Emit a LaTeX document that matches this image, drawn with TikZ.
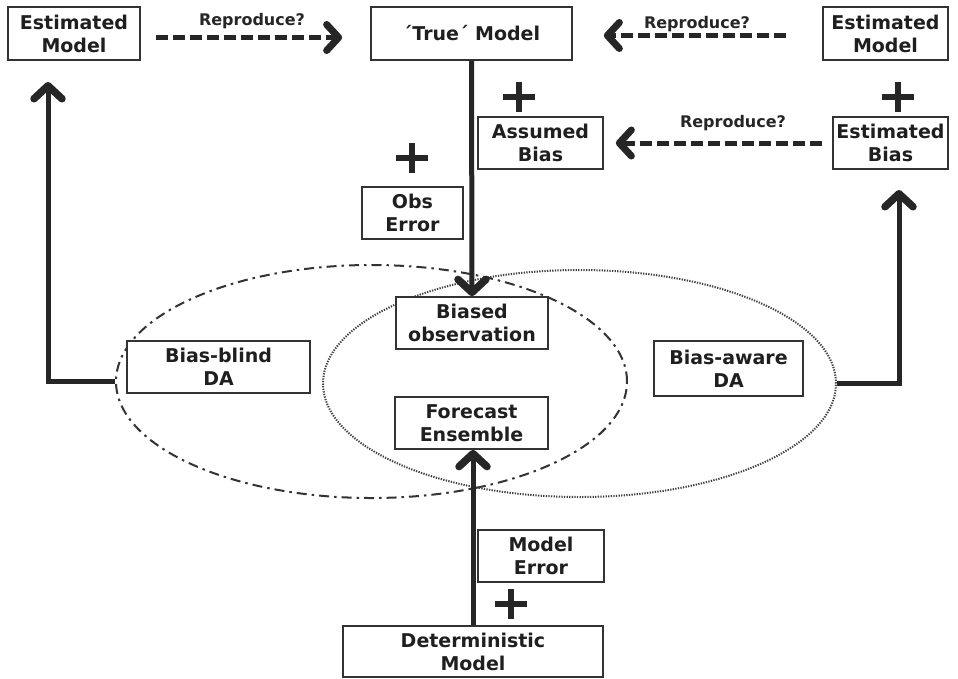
\documentclass[tikz,border=0pt]{standalone}
\usepackage{fontspec}
\setmainfont{DejaVu Sans}
\usetikzlibrary{arrows.meta,shapes.geometric}
\begin{document}
\begin{tikzpicture}[x=1pt,y=-1pt,
  box/.style={draw=black!80, line width=1.7pt, fill=white, inner sep=0pt, align=center,
    font=\bfseries\fontsize{19}{23}\selectfont, text=black!88},
  lbl/.style={font=\bfseries\fontsize{16}{19}\selectfont, text=black!85, inner sep=0pt},
  conn/.style={line width=5pt, draw=black!85,
    -{Straight Barb[length=13pt,width=28pt,line width=0pt 1.5,round]}},
  dasharrow/.style={line width=5pt, draw=black!85, dash pattern=on 12pt off 5pt,
    -{Straight Barb[length=12pt,width=26pt,line width=0pt 1.4,round]}},
  plussign/.pic={\draw[line width=5.5pt, draw=black!85] (-16,0) -- (16,0) (0,-15) -- (0,15);}
]
\useasboundingbox (0,0) rectangle (958,678);
\fill[white] (0,0) rectangle (958,678);

% ellipses
\node[ellipse, draw=black!80, line width=2pt, dash pattern=on 10pt off 5pt on 2.5pt off 5pt,
  minimum width=511pt, minimum height=233pt, inner sep=0pt] (ddell) at (371.5,381.5) {};
\node[ellipse, draw=black!75, line width=2pt, dash pattern=on 1.3pt off 1.3pt,
  minimum width=513pt, minimum height=227pt, inner sep=0pt] (dotell) at (579.5,383.5) {};

% boxes
\node[box, minimum width=132pt, minimum height=53pt] (em) at (74,33.5) {Estimated\\Model};
\node[box, minimum width=201pt, minimum height=53pt] (tm) at (471.5,33.5) {´True´ Model};
\node[box, minimum width=125pt, minimum height=53pt] (em2) at (885.5,33.5) {Estimated\\Model};
\node[box, minimum width=125pt, minimum height=52pt] (ab) at (540.5,143) {Assumed\\Bias};
\node[box, minimum width=115pt, minimum height=52pt] (eb) at (890.5,143) {Estimated\\Bias};
\node[box, minimum width=101pt, minimum height=52pt] (oe) at (412.5,213) {Obs\\Error};
\node[box, minimum width=152pt, minimum height=52pt] (bo) at (472,323) {Biased\\observation};
\node[box, minimum width=153pt, minimum height=52pt] (fe) at (471.5,423) {Forecast\\Ensemble};
\node[box, minimum width=183pt, minimum height=52pt] (bb) at (218.5,367) {Bias-blind\\DA};
\node[box, minimum width=149pt, minimum height=55pt] (ba) at (728.5,368.5) {Bias-aware\\DA};
\node[box, minimum width=126pt, minimum height=52pt] (me) at (541,556) {Model\\Error};
\node[box, minimum width=260pt, minimum height=51pt] (dm) at (473,651.5) {Deterministic\\Model};

% plus signs
\pic at (519,97) {plussign};
\pic at (898,97) {plussign};
\pic at (412,158) {plussign};
\pic at (511,604) {plussign};

% solid connectors
\coordinate (ltip) at (48,82);
\coordinate (rtip) at (899,190);
\draw[conn] (ddell.west) -| (ltip);
\draw[conn] (dotell.east) -| (rtip);
\draw[conn] (tm.south) -- (bo.north);
\draw[conn] (dm.north) -- (dm.north |- fe.south);

% dashed reproduce arrows
\draw[dasharrow, shorten <=15pt, shorten >=28pt] ([yshift=-4pt]em.east) -- ([yshift=-4pt]tm.west);
\draw[dasharrow, shorten <=36pt, shorten >=31pt] ([yshift=-2pt]em2.west) -- ([yshift=-2pt]tm.east);
\draw[dasharrow, shorten <=10pt, shorten >=12pt] (eb.west) -- (ab.east);

\node[lbl] (r1) at (252,21) {Reproduce?};
\node[lbl] (r2) at (697,24) {Reproduce?};
\node[lbl] (r3) at (733,123) {Reproduce?};
\end{tikzpicture}
\end{document}
